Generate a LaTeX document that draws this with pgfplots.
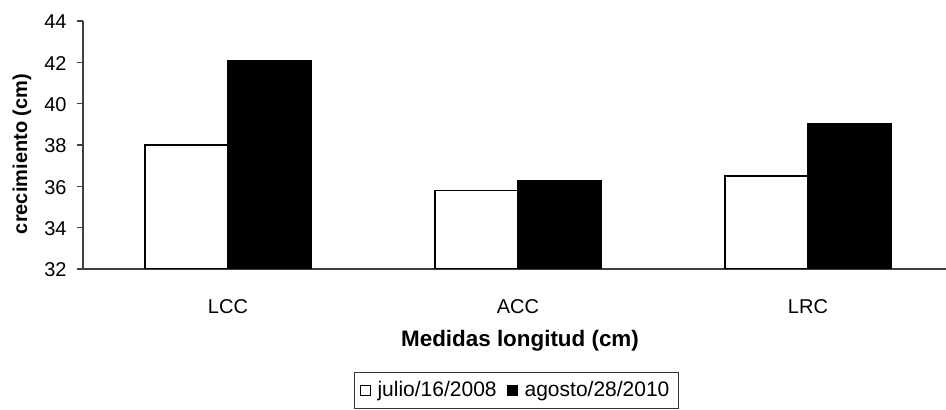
\documentclass[border=0pt]{standalone}
\usepackage{pgfplots}
\pgfplotsset{compat=1.18}
\usepackage{fontspec}
\setmainfont{Liberation Sans}
\begin{document}
\begin{tikzpicture}
\begin{axis}[
  name=ax,
  scale only axis,
  width=431.5pt, height=124pt,
  ybar=0pt, bar width=41.5pt,
  xmin=-0.5, xmax=2.476,
  ymin=32, ymax=44,
  ytick={32,34,...,44},
  xtick={0,1,2},
  xticklabels={LCC,ACC,LRC},
  minor xtick={-0.5,0.5,1.5,2.5},
  axis x line*=bottom, axis y line*=left,
  axis line style={black!75, line width=0.6pt},
  every tick/.style={black!75, line width=0.6pt},
  tick align=outside,
  major tick length=3pt, minor tick length=3pt,
  x tick style={draw=none},
  minor x tick style={black!75, line width=0.6pt},
  tick label style={font=\fontsize{10}{12}\selectfont},
  /pgf/number format/assume math mode=true,
  yticklabel style={anchor=east, inner sep=0pt, xshift=-5pt, yshift=-0.5pt},
  xticklabel style={anchor=base, inner sep=0pt, yshift=-19.5pt},
  every axis y label/.style={at={(axis description cs:0,0.4637)}, xshift=-30.5pt, rotate=90, anchor=center, font=\bfseries\fontsize{10}{12}\selectfont},
  every axis x label/.style={at={(axis description cs:0.5064,0)}, yshift=-39pt, anchor=base, font=\bfseries\fontsize{11.2}{13}\selectfont},
  ylabel={crecimiento (cm)},
  xlabel={Medidas longitud (cm)},
  legend columns=2,
  legend style={at={(axis description cs:0.5023,-0.49)}, anchor=center, draw=black!80, line width=0.5pt, font=\fontsize{10.5}{12}\selectfont, inner xsep=2.5pt, inner ysep=2.5pt, /tikz/every odd column/.append style={column sep=1.5pt}, /tikz/every even column/.append style={column sep=3pt}},
  legend image code/.code={\draw[#1, line width=0.5pt] (0pt,-2.5pt) rectangle (5pt,2.5pt);},
]
\addplot[draw=black, fill=white, line width=0.6pt] coordinates {(0,38.0) (1,35.8) (2,36.5)};
\addplot[draw=black, fill=black, line width=0.6pt] coordinates {(0,42.1) (1,36.3) (2,39.05)};
\legend{julio/16/2008, agosto/28/2010}
\end{axis}
\pgfresetboundingbox
\path[use as bounding box] (ax.south west) ++(-41.5pt,-70.5pt) rectangle ++(473pt,205pt);
\end{tikzpicture}
\end{document}
